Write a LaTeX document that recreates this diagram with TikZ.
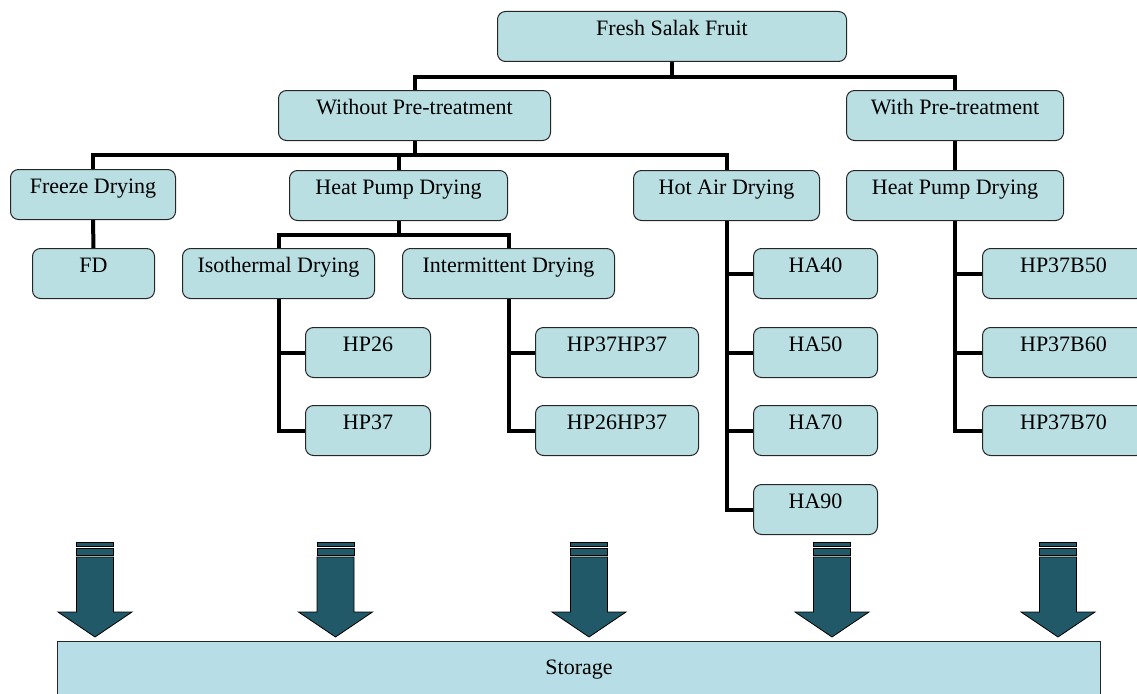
\documentclass[tikz,border=0pt]{standalone}
\usepackage{fontspec}
\setmainfont{Liberation Serif}
\begin{document}
\begin{tikzpicture}[x=1pt, y=-1pt,
  box/.style={draw=black!85, line width=1pt, fill=boxfill, rounded corners=8pt,
    inner xsep=0pt, inner ysep=0pt, text height=24pt, text depth=26pt,
    anchor=north west, align=center, font=\fontsize{22}{26}\selectfont},
  storebox/.style={draw=black!85, line width=1pt, fill=storefill,
    inner sep=0pt, anchor=north west, font=\fontsize{22}{26}\selectfont},
  link/.style={draw=black, line width=4pt, line join=miter},
  arrowbody/.style={draw=black, line width=0.8pt, fill=arrowfill, line join=miter},
  striparrow/.pic={
    % two thin stripes above the shaft, then the shaft and the head
    \filldraw[arrowbody] (-18.5,0) rectangle (18.5,4);
    \filldraw[arrowbody] (-18.5,6) rectangle (18.5,13);
    \filldraw[arrowbody] (-18.5,15) -- (18.5,15) -- (18.5,70) -- (37,70)
      -- (0,95) -- (-37,70) -- (-18.5,70) -- cycle;
  }
]
\definecolor{boxfill}{RGB}{185,223,227}
\definecolor{storefill}{RGB}{183,222,230}
\definecolor{arrowfill}{RGB}{33,89,104}

\useasboundingbox (0,0) rectangle (1137,693);

% ---------- boxes ----------
\node[box, minimum width=349pt] (fresh) at (497,11) {Fresh Salak Fruit};

\node[box, minimum width=272pt] (without) at (278,90) {Without Pre-treatment};
\node[box, minimum width=217pt] (with)    at (846,90) {With Pre-treatment};

\node[box, minimum width=165pt] (freeze) at (10,169)  {Freeze Drying};
\node[box, minimum width=218pt] (hpdA)   at (289,170) {Heat Pump Drying};
\node[box, minimum width=186pt] (hot)    at (633,170) {Hot Air Drying};
\node[box, minimum width=217pt] (hpdB)   at (846,170) {Heat Pump Drying};

\node[box, minimum width=122pt] (fd)    at (32,248)  {FD};
\node[box, minimum width=192pt] (iso)   at (182,248) {Isothermal Drying};
\node[box, minimum width=212pt] (inter) at (402,248) {Intermittent Drying};

\node[box, minimum width=125pt] (hp26) at (305,327) {HP26};
\node[box, minimum width=125pt] (hp37) at (305,405) {HP37};

\node[box, minimum width=163pt] (hp37hp37) at (535,327) {HP37HP37};
\node[box, minimum width=163pt] (hp26hp37) at (535,405) {HP26HP37};

\node[box, minimum width=124pt] (ha40) at (753,248) {HA40};
\node[box, minimum width=124pt] (ha50) at (753,327) {HA50};
\node[box, minimum width=124pt] (ha70) at (753,405) {HA70};
\node[box, minimum width=124pt] (ha90) at (753,484) {HA90};

\node[box, minimum width=162pt] (b50) at (982,248) {HP37B50};
\node[box, minimum width=162pt] (b60) at (982,327) {HP37B60};
\node[box, minimum width=162pt] (b70) at (982,405) {HP37B70};

\node[storebox, minimum width=1043pt, minimum height=56pt] (storage) at (57,641) {Storage};

% ---------- connectors ----------
\coordinate (busA) at ([yshift=-15pt]fresh.south);
\draw[link] (fresh.south) -- (busA);
\draw[link] (without.north) |- (busA) -| (with.north);

\coordinate (busB) at ([yshift=-14pt]without.south);
\draw[link] (without.south) -- (busB);
\draw[link] (freeze.north) |- (busB) -| (hot.north);
\draw[link] (busB -| hpdA.north) -- (hpdA.north);

\draw[link] (with.south) -- (hpdB.north);
\draw[link] (freeze.south) -- (fd.north);

\coordinate (busC) at ([yshift=-14pt]hpdA.south);
\draw[link] (hpdA.south) -- (busC);
\draw[link] (iso.north) |- (busC) -| (inter.north);

\draw[link] (iso.south) |- (hp26.west);
\draw[link] (iso.south) |- (hp37.west);

\draw[link] (inter.south) |- (hp37hp37.west);
\draw[link] (inter.south) |- (hp26hp37.west);

\draw[link] (hot.south) |- (ha40.west);
\draw[link] (hot.south) |- (ha50.west);
\draw[link] (hot.south) |- (ha70.west);
\draw[link] (hot.south) |- (ha90.west);

\draw[link] (hpdB.south) |- (b50.west);
\draw[link] (hpdB.south) |- (b60.west);
\draw[link] (hpdB.south) |- (b70.west);

% ---------- arrows into storage ----------
\foreach \cx in {95,335.5,589,832,1058}
  \pic at (\cx,542) {striparrow};
\end{tikzpicture}
\end{document}
